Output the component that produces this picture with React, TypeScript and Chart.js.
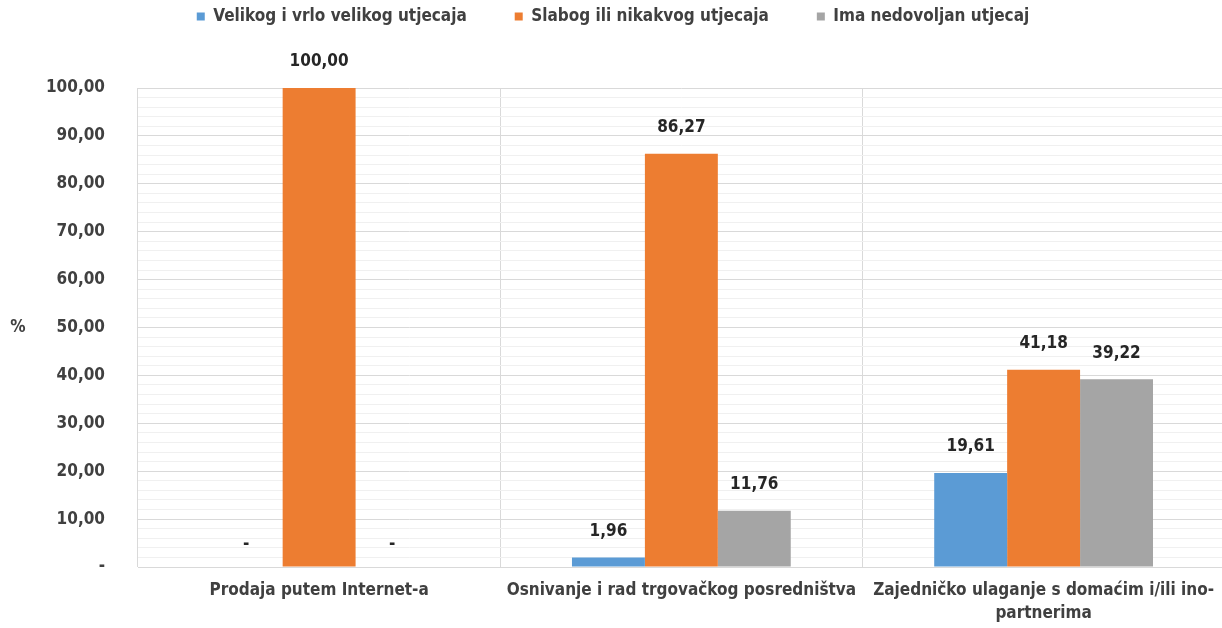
import React, { useEffect, useRef } from "react";
import { Chart, registerables } from "chart.js";

Chart.register(...registerables);

const categories: (string | string[])[] = [
  "Prodaja putem Internet-a",
  "Osnivanje i rad trgovačkog posredništva",
  ["Zajedničko ulaganje s domaćim i/ili ino-", "partnerima"],
];
const seriesNames = [
  "Velikog i vrlo velikog utjecaja",
  "Slabog ili nikakvog utjecaja",
  "Ima nedovoljan utjecaj",
];
const velikog = [0, 1.96, 19.61];
const slabog = [100, 86.27, 41.18];
const nedovoljan = [0, 11.76, 39.22];
const colors = ["#5B9BD5", "#ED7D31", "#A5A5A5"];
const yMin = 0;
const yMax = 100;
const yMinorStep = 2;
const yMajorStep = 10;

const FONT = "'DejaVu Sans Condensed', 'Liberation Sans Narrow', sans-serif";
const FS = 17;

const fmt = (v: number) => (v === 0 ? "-" : v.toFixed(2).replace(".", ","));

const legendSpacer = {
  id: "legendSpacer",
  beforeInit(chart: any) {
    const orig = chart.legend.fit;
    chart.legend.fit = function fit() {
      orig.bind(chart.legend)();
      this.height = 128;
    };
  },
};

const dataLabels = {
  id: "dataLabels",
  afterDatasetsDraw(chart: any) {
    const ctx = chart.ctx;
    ctx.save();
    ctx.font = `bold ${FS}px ${FONT}`;
    ctx.fillStyle = "#262626";
    ctx.textAlign = "center";
    ctx.textBaseline = "middle";
    chart.data.datasets.forEach((ds: any, di: number) => {
      const meta = chart.getDatasetMeta(di);
      meta.data.forEach((el: any, i: number) => {
        const v = ds.data[i];
        const off = v === 0 ? 22 : 26;
        ctx.fillText(fmt(v), el.x, el.y - off);
      });
    });
    ctx.fillStyle = "#404040";
    const y = (chart.chartArea.top + chart.chartArea.bottom) / 2;
    ctx.fillText("%", 18, y);
    ctx.restore();
  },
};

export default function App() {
  const ref = useRef<HTMLCanvasElement>(null);
  useEffect(() => {
    if (!ref.current) return;
    const chart = new Chart(ref.current, {
      type: "bar",
      data: {
        labels: categories,
        datasets: [velikog, slabog, nedovoljan].map((d, i) => ({
          label: seriesNames[i],
          data: d,
          backgroundColor: colors[i],
          borderWidth: 0,
          categoryPercentage: 0.604,
          barPercentage: 1,
        })),
      },
      options: {
        animation: false,
        responsive: false,
        layout: { padding: { top: -40, left: 0, right: 0, bottom: 0 } },
        plugins: {
          legend: {
            position: "top",
            labels: {
              boxWidth: 8,
              boxHeight: 8,
              padding: 48,
              color: "#404040",
              font: { family: FONT, size: FS, weight: "bold" },
            },
          },
          tooltip: { enabled: false },
        },
        scales: {
          x: {
            grid: { color: "#d9d9d9", drawTicks: false, offset: true },
            border: { color: "#d9d9d9" },
            ticks: {
              color: "#404040",
              maxRotation: 0,
              autoSkip: false,
              padding: 12,
              font: { family: FONT, size: FS, weight: "bold", lineHeight: 1.35 },
            },
            afterFit(scale: any) {
              scale.height = 61;
            },
          },
          y: {
            min: yMin,
            max: yMax,
            grid: {
              drawTicks: false,
              color: (c: any) =>
                c.tick && c.tick.value % yMajorStep === 0 ? "#d9d9d9" : "#f0f0f0",
            },
            border: { display: false },
            ticks: {
              stepSize: yMinorStep,
              autoSkip: false,
              maxTicksLimit: 1000,
              padding: 33,
              color: "#404040",
              font: { family: FONT, size: FS, weight: "bold" },
              callback: (v: any) => (Number(v) % yMajorStep === 0 ? fmt(Number(v)) : ""),
            },
            afterFit(scale: any) {
              scale.width = 138;
            },
          },
        },
      },
      plugins: [legendSpacer, dataLabels],
    });
    return () => chart.destroy();
  }, []);
  return (
    <div style={{ position: "fixed", left: 0, top: 0, width: 1226, height: 628, background: "#fff" }}>
      <canvas ref={ref} width={1226} height={628} style={{ display: "block" }} />
    </div>
  );
}
